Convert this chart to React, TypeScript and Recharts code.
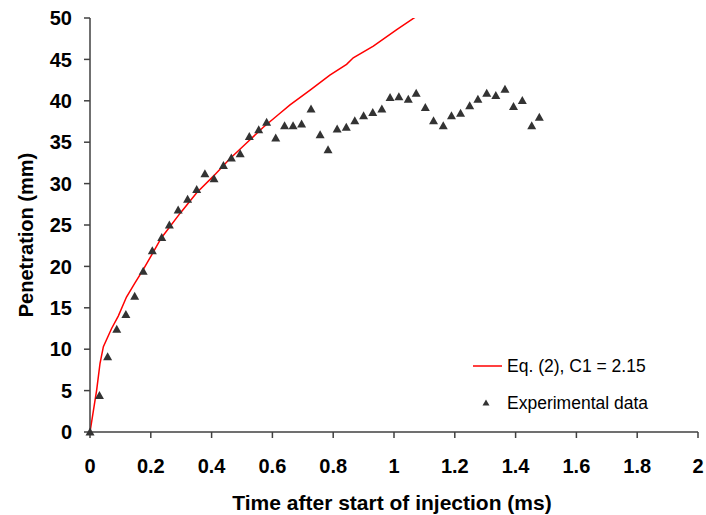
import React from "react";
import {
  ComposedChart, Line, Scatter, XAxis, YAxis, Legend, Label
} from "recharts";

const expTime = [
  0, 0.031, 0.058, 0.088, 0.118, 0.147, 0.175, 0.205, 0.236, 0.261, 0.29, 0.321, 0.351,
  0.378, 0.408, 0.439, 0.465, 0.494, 0.524, 0.555, 0.581, 0.611, 0.64, 0.668, 0.696,
  0.727, 0.757, 0.783, 0.813, 0.843, 0.871, 0.9, 0.93, 0.96, 0.987, 1.016, 1.047, 1.073,
  1.103, 1.13, 1.162, 1.189, 1.219, 1.249, 1.276, 1.305, 1.335, 1.365, 1.393, 1.422,
  1.453, 1.478
];
const expPen = [
  0, 4.4, 9.1, 12.4, 14.2, 16.4, 19.4, 21.9, 23.5, 25.0, 26.8, 28.1, 29.3,
  31.2, 30.6, 32.2, 33.1, 33.6, 35.7, 36.5, 37.4, 35.5, 37.0, 37.0, 37.2,
  39.0, 35.9, 34.1, 36.6, 36.8, 37.6, 38.2, 38.6, 39.0, 40.4, 40.5, 40.2, 40.9,
  39.2, 37.6, 37.0, 38.2, 38.5, 39.4, 40.2, 40.9, 40.65, 41.4, 39.3, 40.05,
  37.0, 38.0
];

// Eq. (2) curve
const modelTime = [
  0, 0.022, 0.033, 0.044, 0.071, 0.093, 0.12, 0.148, 0.175, 0.203, 0.234, 0.296,
  0.351, 0.406, 0.46, 0.515, 0.57, 0.625, 0.658, 0.724, 0.789, 0.844, 0.866, 0.932,
  1.009, 1.086
];
const modelPen = [
  0, 5.1, 8.3, 10.3, 12.5, 14.0, 16.3, 18.0, 19.6, 21.4, 23.4, 26.4,
  28.9, 30.9, 33.0, 34.9, 36.8, 38.5, 39.5, 41.3, 43.1, 44.4, 45.2, 46.6,
  48.6, 50.5
];

const xTicks = [0, 0.2, 0.4, 0.6, 0.8, 1, 1.2, 1.4, 1.6, 1.8, 2];
const yTicks = [0, 5, 10, 15, 20, 25, 30, 35, 40, 45, 50];

const expData = expTime.map((x, i) => ({ x, y: expPen[i] }));
const modelData = modelTime.map((x, i) => ({ x, y: modelPen[i] }));

const FONT = "'Liberation Sans', Arial, sans-serif";
const AXIS = "#404040";

function Triangle(props: any) {
  const { cx, cy } = props;
  if (cx == null || cy == null) return null;
  return (
    <path
      d={`M${cx},${cy - 4.5} L${cx + 4.5},${cy + 3.5} L${cx - 4.5},${cy + 3.5} Z`}
      fill="#333333"
    />
  );
}

function LegendBox() {
  return (
    <svg width={190} height={64} style={{ display: "block" }}>
      <line x1={3} y1={14} x2={32} y2={14} stroke="#ff0000" strokeWidth={1.5} />
      <text x={37} y={19.7} fontFamily={FONT} fontSize={17.5} fill="#000">
        Eq. (2), C1 = 2.15
      </text>
      <path d="M16,47.5 L19.5,53.5 L12.5,53.5 Z" fill="#333333" />
      <text x={37} y={57.3} fontFamily={FONT} fontSize={17.5} fill="#000">
        Experimental data
      </text>
    </svg>
  );
}

export default function App() {
  return (
    <div style={{ position: "absolute", left: 0, top: 0, background: "#fff" }}>
      <ComposedChart
        width={706}
        height={515}
        margin={{ top: 18, right: 8, left: 0, bottom: 0 }}
      >
        <XAxis
          type="number"
          dataKey="x"
          domain={[0, 2]}
          ticks={xTicks}
          height={83}
          stroke={AXIS}
          strokeWidth={1.5}
          tickSize={6}
          tickMargin={21}
          tick={{ fill: "#000", fontFamily: FONT, fontSize: 20, fontWeight: "bold" }}
        >
          <Label
            content={() => (
              <text
                x={392}
                y={510}
                textAnchor="middle"
                fontFamily={FONT}
                fontSize={21}
                fontWeight="bold"
                fill="#000"
              >
                Time after start of injection (ms)
              </text>
            )}
          />
        </XAxis>
        <YAxis
          yAxisId="pen"
          type="number"
          dataKey="y"
          domain={[0, 50]}
          ticks={yTicks}
          width={90}
          stroke={AXIS}
          strokeWidth={1.5}
          tickSize={6}
          tickMargin={12}
          tick={{ fill: "#000", fontFamily: FONT, fontSize: 20, fontWeight: "bold" }}
          allowDataOverflow
        >
          <Label
            content={() => (
              <text
                x={33}
                y={235}
                transform="rotate(-90, 33, 235)"
                textAnchor="middle"
                fontFamily={FONT}
                fontSize={20}
                fontWeight="bold"
                fill="#000"
              >
                Penetration (mm)
              </text>
            )}
          />
        </YAxis>
        {/* same scale, no clipping, so the origin marker is drawn whole */}
        <YAxis
          yAxisId="exp"
          orientation="right"
          width={0}
          type="number"
          dataKey="y"
          domain={[0, 50]}
          hide
        />
        <Legend
          layout="vertical"
          align="center"
          verticalAlign="middle"
          wrapperStyle={{ left: 470, top: 352, width: 190, height: 64 }}
          content={() => <LegendBox />}
        />
        <Line
          yAxisId="pen"
          data={modelData}
          dataKey="y"
          type="linear"
          stroke="#ff0000"
          strokeWidth={1.5}
          dot={false}
          isAnimationActive={false}
        />
        <Scatter
          yAxisId="exp"
          data={expData}
          dataKey="y"
          shape={<Triangle />}
          isAnimationActive={false}
        />
      </ComposedChart>
    </div>
  );
}
